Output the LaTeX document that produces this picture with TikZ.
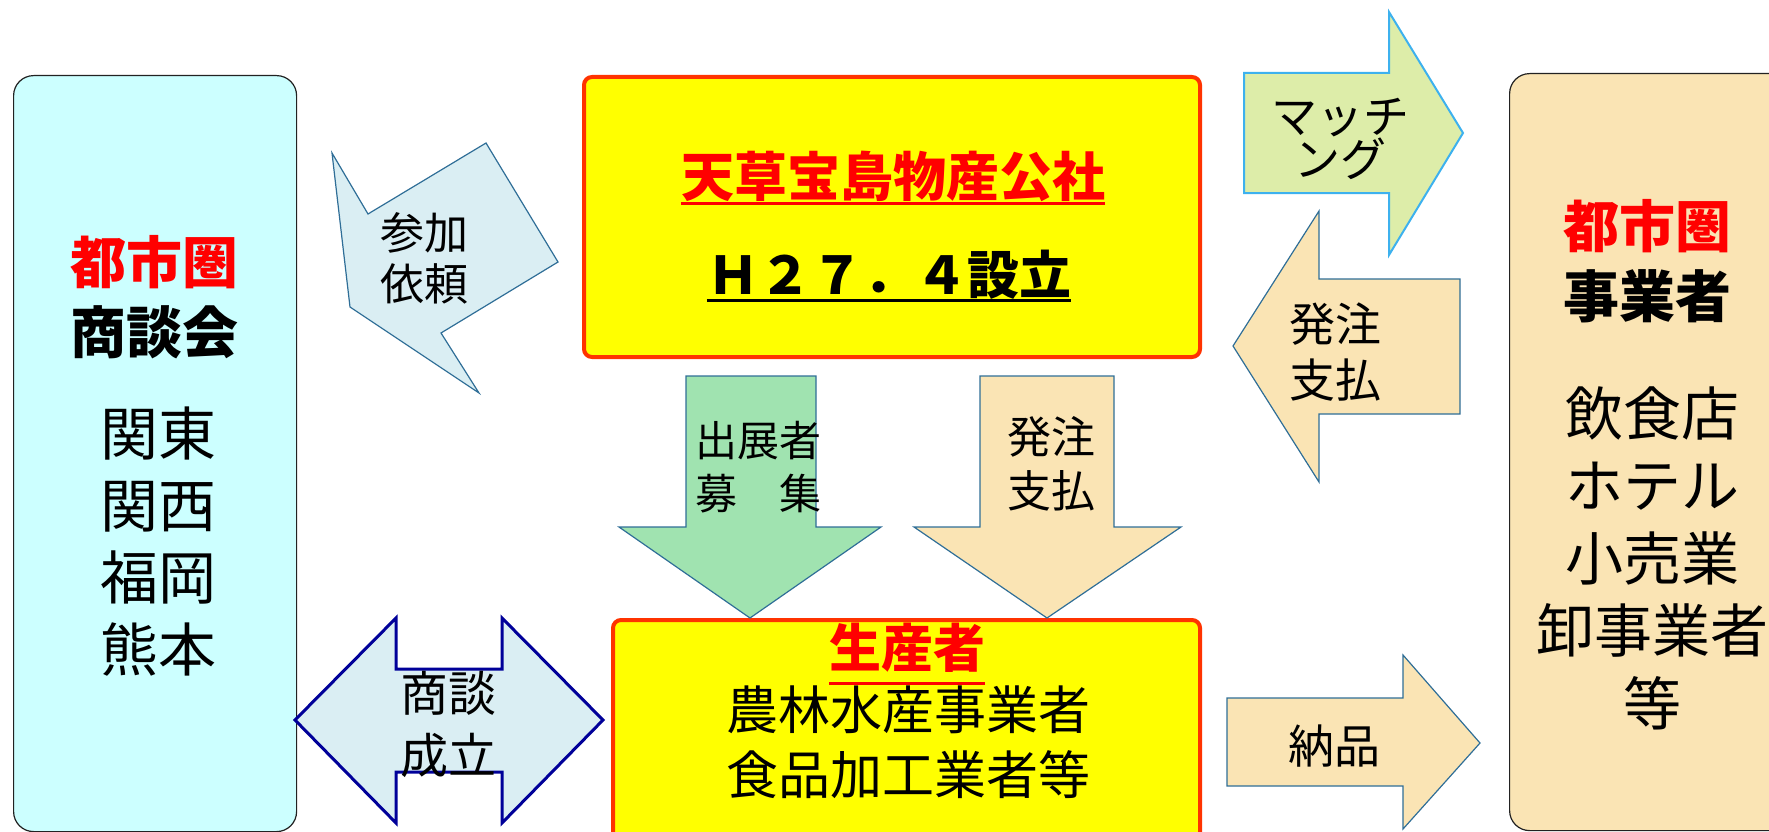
\documentclass[tikz,border=0pt]{standalone}
\usepackage{fontspec}
\setmainfont{Noto Sans CJK JP}
\newcommand\fsz[2]{\fontsize{#1}{#2}\selectfont}
\definecolor{cyanfill}{HTML}{CCFFFF}
\definecolor{wheat}{HTML}{FAE4B4}
\definecolor{yel}{HTML}{FFFF00}
\definecolor{redline}{HTML}{FF3300}
\definecolor{ltblue}{HTML}{DAEEF3}
\definecolor{ltgreen}{HTML}{A0E3B0}
\definecolor{olive}{HTML}{DDEDA9}
\definecolor{arrowline}{HTML}{2F6E97}
\definecolor{skyline}{HTML}{3DB1EE}
\definecolor{navy}{HTML}{000099}
\definecolor{boxline}{HTML}{222222}
\definecolor{titred}{HTML}{FF0000}
\begin{document}
\begin{tikzpicture}[x=1pt,y=-1pt,
  sidebox/.style={draw=boxline, line width=1.2pt, rounded corners=20pt, anchor=north west, inner sep=0pt},
  mainbox/.style={draw=redline, fill=yel, line width=4pt, rounded corners=8pt, anchor=north west, inner sep=0pt},
  blockarrow/.style={draw=arrowline, line width=1.2pt, line join=miter},
  lbl/.style={align=center, inner sep=0pt, text=black},
]
\begin{scope}
\clip (0,0) rectangle (1769,832);
% boxes
\node[sidebox, fill=cyanfill, minimum width=283pt, minimum height=756pt] (lbox) at (13,75) {};
\node[sidebox, fill=wheat, minimum width=360pt, minimum height=757pt] (rbox) at (1509,73) {};
\node[mainbox, minimum width=616pt, minimum height=280pt] (tbox) at (582,75) {};
\node[mainbox, minimum width=587pt, minimum height=240pt] (bbox) at (611,618) {};

% left box text
\node[lbl, text=titred, font={\fsz{56}{64}\bfseries}] (l1) at (154,262) {都市圏};
\node[lbl, font={\fsz{56}{64}\bfseries}] (l2) at (154,332) {商談会};
\node[lbl, font={\fsz{58}{72}}] (l3) at (158,542) {関東\\関西\\福岡\\熊本};

% right box text
\node[lbl, text=titred, font={\fsz{56}{64}\bfseries}] (r1) at (1647,226) {都市圏};
\node[lbl, font={\fsz{56}{64}\bfseries}] (r2) at (1647,296) {事業者};
\node[lbl, font={\fsz{58}{72.5}}] (r3) at (1652,558) {飲食店\\ホテル\\小売業\\卸事業者\\等};

% top box text
\node[lbl, text=titred, font={\fsz{53}{60}\bfseries}] (t1) at (893,176) {天草宝島物産公社};
\draw[titred, line width=3pt] (t1.west |- 0,203) -- (t1.east |- 0,203);
\node[lbl, font={\fsz{52}{60}\bfseries}] (t2) at (889,275) {Ｈ２７．４設立};
\draw[black, line width=3pt] (t2.west |- 0,300) -- (t2.east |- 0,300);

% bottom box text
\node[lbl, text=titred, font={\fsz{52}{60}\bfseries}] (b1) at (907,648) {生産者};
\draw[titred, line width=3pt] (b1.west |- 0,683) -- (b1.east |- 0,683);
\node[lbl, font={\fsz{52}{65}}] (b2) at (908,742) {農林水産事業者\\食品加工業者等};

% arrow: 参加依頼
\filldraw[blockarrow, fill=ltblue] (350,307) -- (332,153) -- (368,214) -- (486,143) -- (558,262) -- (441,333) -- (479,393) -- cycle;
\node[lbl, font={\fsz{44}{51}}] (a1) at (424,258) {参加\\依頼};

% arrow: 出展者募集
\filldraw[blockarrow, fill=ltgreen] (686,376) -- (816,376) -- (816,527) -- (881,527) -- (750,618) -- (619,527) -- (686,527) -- cycle;
\node[lbl, font={\fsz{42}{53}}] (a2) at (758,467) {出展者\\募　集};

% arrow: 発注支払 (down)
\filldraw[blockarrow, fill=wheat] (980,376) -- (1114,376) -- (1114,527) -- (1181,527) -- (1047,618) -- (914,527) -- (980,527) -- cycle;
\node[lbl, font={\fsz{44}{54}}] (a3) at (1051,464) {発注\\支払};

% double arrow: 商談成立
\filldraw[draw=navy, line width=3pt, line join=miter, fill=ltblue] (295,720) -- (396,618) -- (396,669) -- (502,669) -- (502,618) -- (603,720) -- (502,823) -- (502,772) -- (396,772) -- (396,823) -- cycle;
\node[lbl, font={\fsz{48}{62}}] (a4) at (448,724) {商談\\成立};

% arrow: マッチング
\filldraw[draw=skyline, line width=2pt, line join=miter, fill=olive] (1244,73) -- (1389,73) -- (1389,12) -- (1463,133) -- (1389,255) -- (1389,193) -- (1244,193) -- cycle;
\node[lbl, font={\fsz{46}{42}}] (a5) at (1340,139) {マッチ\\ング};

% arrow: 発注支払 (left)
\filldraw[blockarrow, fill=wheat] (1233,346) -- (1319,211) -- (1319,279) -- (1460,279) -- (1460,414) -- (1319,414) -- (1319,482) -- cycle;
\node[lbl, font={\fsz{46}{56}}] (a6) at (1335,352) {発注\\支払};

% arrow: 納品
\filldraw[blockarrow, fill=wheat] (1227,698) -- (1403,698) -- (1403,655) -- (1480,743) -- (1403,829) -- (1403,786) -- (1227,786) -- cycle;
\node[lbl, font={\fsz{46}{56}}] (a7) at (1334,746) {納品};
\end{scope}
\pgfresetboundingbox
\useasboundingbox (0,0) rectangle (1769,832);
\end{tikzpicture}
\end{document}
